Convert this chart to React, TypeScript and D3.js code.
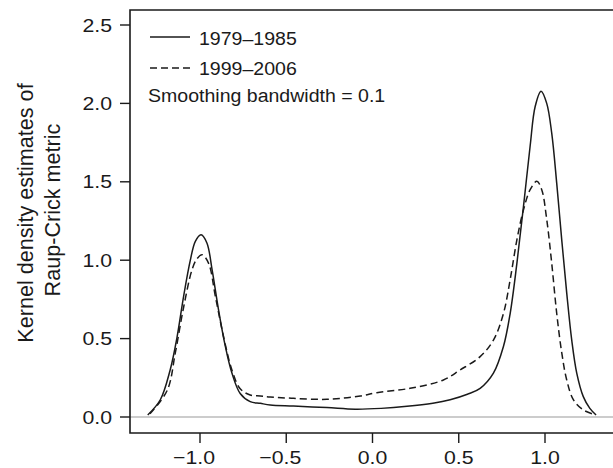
import React from "react";
import * as d3 from "d3";

const xTicks = [-1.0, -0.5, 0.0, 0.5, 1.0];
const yTicks = [0.0, 0.5, 1.0, 1.5, 2.0, 2.5];

const seriesNames = ["1979\u20131985", "1999\u20132006"];
const noteText = "Smoothing bandwidth = 0.1";
const yTitle = ["Kernel density estimates of", "Raup-Crick metric"];

// 1979–1985 (solid)
const solidX = [-1.303, -1.23, -1.173, -1.133, -1.095, -1.056, -1.027, -0.994, -0.96, -0.93, -0.892, -0.853, -0.815, -0.767, -0.709, -0.65, -0.593, -0.458, -0.264, -0.1, 0.05, 0.2, 0.35, 0.45, 0.55, 0.624, 0.701, 0.759, 0.798, 0.837, 0.875, 0.914, 0.943, 0.977, 1.01, 1.039, 1.068, 1.097, 1.126, 1.155, 1.184, 1.222, 1.26, 1.296];
const solidY = [0.013, 0.11, 0.30, 0.51, 0.77, 1.0, 1.12, 1.162, 1.11, 0.94, 0.68, 0.45, 0.28, 0.15, 0.098, 0.087, 0.077, 0.07, 0.06, 0.05, 0.055, 0.068, 0.088, 0.11, 0.145, 0.183, 0.28, 0.45, 0.66, 0.98, 1.34, 1.73, 1.98, 2.077, 2.0, 1.81, 1.49, 1.13, 0.79, 0.49, 0.28, 0.13, 0.055, 0.013];

// 1999–2006 (dashed)
const dashX = [-1.29, -1.19, -1.143, -1.095, -1.046, -1.017, -0.988, -0.95, -0.911, -0.863, -0.815, -0.767, -0.709, -0.65, -0.593, -0.458, -0.264, -0.071, 0.025, 0.218, 0.411, 0.508, 0.624, 0.701, 0.759, 0.798, 0.837, 0.875, 0.914, 0.953, 0.981, 1.01, 1.039, 1.068, 1.097, 1.126, 1.165, 1.222, 1.29];
const dashY = [0.02, 0.17, 0.41, 0.70, 0.94, 1.01, 1.035, 0.98, 0.77, 0.51, 0.30, 0.18, 0.14, 0.134, 0.128, 0.119, 0.113, 0.134, 0.155, 0.183, 0.236, 0.30, 0.385, 0.49, 0.66, 0.875, 1.13, 1.32, 1.45, 1.503, 1.45, 1.26, 0.98, 0.66, 0.41, 0.236, 0.109, 0.045, 0.015];

const W = 613;
const H = 468;
const FONT = "'Liberation Sans', Arial, Helvetica, sans-serif";
const INK = "#1a1a1a";

function SText(props: { x: number; y: number; sx: number; size: number; anchor?: string; children: any }) {
  return (
    <text
      transform={`translate(${props.x},${props.y}) scale(${props.sx},1)`}
      textAnchor={props.anchor || "start"}
      fontSize={props.size}
      fill={INK}
    >
      {props.children}
    </text>
  );
}

export default function App() {
  const x = d3.scaleLinear().domain([-1, 1]).range([200, 545]);
  const y = d3.scaleLinear().domain([0, 2.5]).range([417, 25]);
  const left = 130;
  const top = 10;
  const bottom = 433;

  const line = d3
    .line<[number, number]>()
    .x((d) => x(d[0]))
    .y((d) => y(d[1]))
    .curve(d3.curveCatmullRom.alpha(0.5));

  const solidPts = solidX.map((v, i) => [v, solidY[i]] as [number, number]);
  const dashPts = dashX.map((v, i) => [v, dashY[i]] as [number, number]);

  return (
    <svg
      width={W}
      height={H}
      style={{ position: "absolute", left: 0, top: 0, background: "#fff" }}
      fontFamily={FONT}
    >
      {/* zero reference line */}
      <line x1={left} x2={W} y1={y(0)} y2={y(0)} stroke="#9a9a9a" strokeWidth={1.2} />

      {/* curves */}
      <path d={line(solidPts) || ""} fill="none" stroke={INK} strokeWidth={1.5} />
      <path d={line(dashPts) || ""} fill="none" stroke={INK} strokeWidth={1.5} strokeDasharray="7,4" />

      {/* box */}
      <path
        d={`M${W + 2},${top}H${left}V${bottom}H${W + 2}`}
        fill="none"
        stroke={INK}
        strokeWidth={1.6}
      />

      {/* y axis ticks */}
      {yTicks.map((t) => (
        <g key={"y" + t}>
          <line x1={120} x2={left} y1={y(t)} y2={y(t)} stroke={INK} strokeWidth={1.4} />
          <SText x={112} y={y(t) + 6.5} sx={1.12} size={19} anchor="end">
            {d3.format(".1f")(t)}
          </SText>
        </g>
      ))}

      {/* x axis ticks */}
      {xTicks.map((t) => (
        <g key={"x" + t}>
          <line x1={x(t)} x2={x(t)} y1={bottom} y2={443} stroke={INK} strokeWidth={1.4} />
          <SText x={x(t) + (t < 0 ? -6 : 0)} y={464} sx={1.12} size={19} anchor="middle">
            {d3.format(".1f")(t).replace("-", "\u2013")}
          </SText>
        </g>
      ))}

      {/* y title */}
      <text
        transform={`translate(33,213) rotate(-90)`}
        textAnchor="middle"
        fontSize={21.6}
        fill={INK}
      >
        {yTitle[0]}
      </text>
      <text
        transform={`translate(59.5,210) rotate(-90)`}
        textAnchor="middle"
        fontSize={21.6}
        fill={INK}
      >
        {yTitle[1]}
      </text>

      {/* legend */}
      <line x1={150} x2={190} y1={37} y2={37} stroke={INK} strokeWidth={1.4} />
      <SText x={199} y={45} sx={1.04} size={18.8}>
        {seriesNames[0]}
      </SText>
      <line x1={150} x2={190} y1={68} y2={68} stroke={INK} strokeWidth={1.4} strokeDasharray="7,4" />
      <SText x={199} y={74.5} sx={1.04} size={18.8}>
        {seriesNames[1]}
      </SText>
      <SText x={148} y={101.5} sx={1.04} size={18.8}>
        {noteText}
      </SText>
    </svg>
  );
}
